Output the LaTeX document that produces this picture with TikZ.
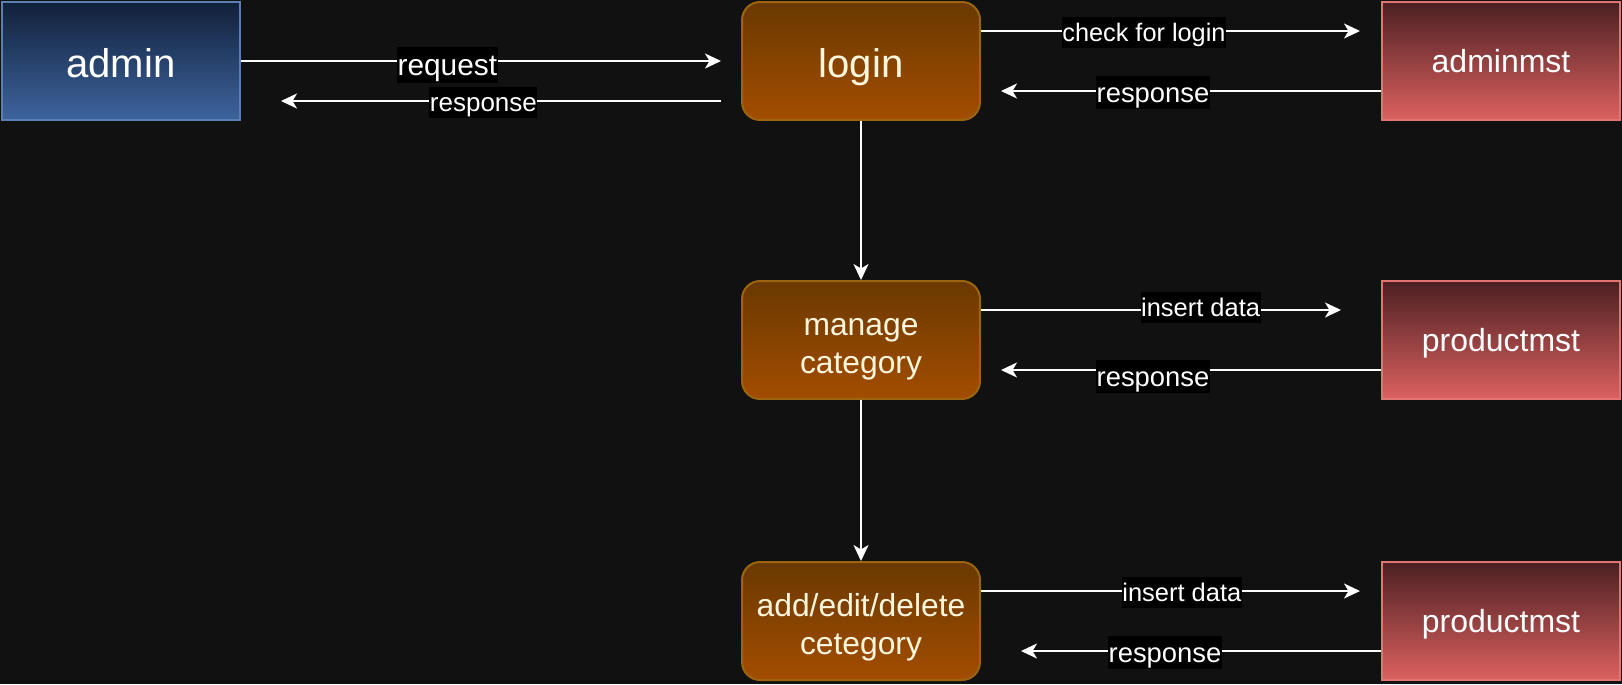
\documentclass[tikz,border=0pt]{standalone}
\usepackage{fontspec}
\setmainfont{Liberation Sans}
\usetikzlibrary{arrows.meta}

\definecolor{bgdark}{HTML}{111111}
\definecolor{admintop}{HTML}{12203A}
\definecolor{adminbot}{HTML}{3D649E}
\definecolor{adminline}{HTML}{5A7FB5}
\definecolor{proctop}{HTML}{6A3900}
\definecolor{procbot}{HTML}{A34D00}
\definecolor{procline}{HTML}{9D6410}
\definecolor{proctext}{HTML}{FFF6DE}
\definecolor{storetop}{HTML}{4C1F22}
\definecolor{storebot}{HTML}{DB615F}
\definecolor{storeline}{HTML}{E27572}

% line box of the font, so texts sit as in the drawing
\newcommand{\vstrut}{\rule[-0.212em]{0pt}{1.117em}}
\newcommand{\boxstrut}[1]{\rule[-0.212em]{0pt}{\dimexpr 1.117em+#1\relax}}

\begin{document}
\begin{tikzpicture}[x=0.02cm, y=-0.02cm,
  box/.style={minimum width=4.76cm, minimum height=2.36cm, line width=0.04cm, inner sep=0pt, align=center},
  actor/.style={box, draw=adminline, top color=admintop, bottom color=adminbot, text=white, font=\fontsize{22.8}{27}\selectfont, execute at begin node=\boxstrut{0.15em}},
  process/.style={box, rounded corners=0.36cm, draw=procline, top color=proctop, bottom color=procbot, text=proctext, font=\fontsize{18.1}{21.8}\selectfont},
  store/.style={box, draw=storeline, top color=storetop, bottom color=storebot, text=white, font=\fontsize{18.2}{22}\selectfont, execute at begin node=\vstrut},
  flow/.style={draw=white, line width=0.04cm, -{Stealth[length=0.32cm, width=0.3cm, inset=0.09cm]}},
  lbl/.style={fill=black, text=white, inner xsep=0.3pt, inner ysep=0.7pt, yshift=-0.03cm, execute at begin node=\vstrut, font=\fontsize{14.5}{16}\selectfont}]
  % Background
  \fill[bgdark] (0,0) rectangle (1622,684);
  \useasboundingbox (0,0) rectangle (1622,684);

  % Nodes
  \node[actor] (admin) at (121,61) {admin};
  \node[process, font=\fontsize{22.8}{27}\selectfont, execute at begin node=\boxstrut{0.15em}] (login) at (861,61) {login};
  \node[store] (adminmst) at (1501,61) {adminmst};
  \node[process] (manage) at (861,340) {\boxstrut{0.2em}manage\\\vstrut category};
  \node[store] (prodA) at (1501,340) {productmst};
  \node[process] (add) at (861,621) {\boxstrut{0.2em}add/edit/delete\\\vstrut cetegory};
  \node[store] (prodB) at (1501,621) {productmst};

  % Free ends
  \coordinate (reqend) at (721,61);
  \coordinate (resbeg) at (721,101);
  \coordinate (resend) at (281,101);
  \coordinate (chkend) at (1360,31);
  \coordinate (resaend) at (1001,91);
  \coordinate (insaend) at (1341,310);
  \coordinate (respbend) at (1001,370);
  \coordinate (insbend) at (1360,591);
  \coordinate (respcend) at (1021,651);

  % Links
  \draw[flow] (admin.east) -- node[lbl, pos=0.43, yshift=-0.05cm, font=\fontsize{17}{18}\selectfont] {request} (reqend);
  \draw[flow] (resbeg) -- node[lbl, pos=0.54, font=\fontsize{14.8}{16}\selectfont] {response} (resend);
  \draw[flow] (login.east |- chkend) -- node[lbl, pos=0.43, font=\fontsize{14.4}{16}\selectfont] {check for login} (chkend);
  \draw[flow] (adminmst.west |- resaend) -- node[lbl, pos=0.60, font=\fontsize{15.6}{18}\selectfont] {response} (resaend);
  \draw[flow] (login) -- (manage);
  \draw[flow] (manage.east |- insaend) -- node[lbl, pos=0.61, yshift=0.08cm] {insert data} (insaend);
  \draw[flow] (prodA.west |- respbend) -- node[lbl, pos=0.60, yshift=-0.1cm, font=\fontsize{15.6}{18}\selectfont] {response} (respbend);
  \draw[flow] (manage) -- (add);
  \draw[flow] (add.east |- insbend) -- node[lbl, pos=0.53] {insert data} (insbend);
  \draw[flow] (prodB.west |- respcend) -- node[lbl, pos=0.60, font=\fontsize{15.6}{18}\selectfont] {response} (respcend);
\end{tikzpicture}
\end{document}
